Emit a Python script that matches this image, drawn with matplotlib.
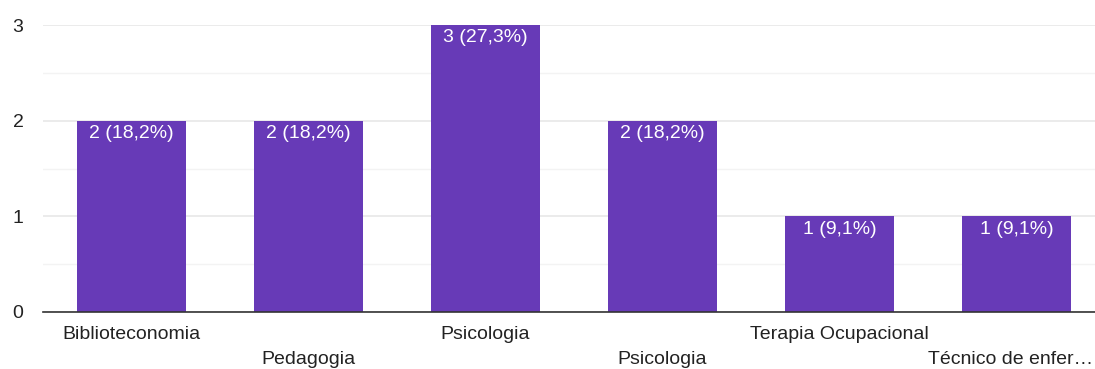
import matplotlib
matplotlib.use('Agg')
from matplotlib import pyplot as plt
from matplotlib.ticker import MultipleLocator

# dados do gráfico
cursos = ['Biblioteconomia', 'Pedagogia', 'Psicologia', 'Psicologia',
          'Terapia Ocupacional', 'Técnico de enfer…']
valores = [2, 2, 3, 2, 1, 1]
rotulos = ['2 (18,2%)', '2 (18,2%)', '3 (27,3%)', '2 (18,2%)', '1 (9,1%)', '1 (9,1%)']

plt.rcParams['font.family'] = ['Liberation Sans', 'DejaVu Sans']

fig = plt.figure(figsize=(10.95, 3.69), dpi=100)
ax = fig.add_axes([43 / 1095, 57 / 369, 1 - 43 / 1095, 287 / 369])

x = list(range(len(cursos)))
ax.bar(x, valores, width=0.62, color='#673ab7', zorder=3)

for i, v in enumerate(valores):
    ax.text(i, v - 0.045, rotulos[i], ha='center', va='top', color='white',
            fontsize=14, zorder=4)

ax.set_ylim(0, 3)
ax.set_xlim(-0.5, 5.5 - 10 / 177)
ax.yaxis.set_major_locator(MultipleLocator(1))
ax.yaxis.set_minor_locator(MultipleLocator(0.5))
ax.grid(axis='y', which='major', color='#e8e8e8', linewidth=1.2, zorder=0)
ax.grid(axis='y', which='minor', color='#f3f3f3', linewidth=1, zorder=0)

for s in ['top', 'right', 'left']:
    ax.spines[s].set_visible(False)
ax.spines['bottom'].set_color('#333333')
ax.spines['bottom'].set_linewidth(1.2)
ax.spines['bottom'].set_zorder(5)

ax.tick_params(axis='y', which='both', length=0, labelsize=14, labelcolor='#222222', pad=14)
ax.set_xticks(x)
ax.set_xticklabels([])
ax.tick_params(axis='x', length=0)

# rótulos do eixo x alternados em duas linhas
for i, nome in enumerate(cursos):
    dy = -0.24 if i % 2 == 0 else -0.50
    if i == len(cursos) - 1:
        # o último encosta na borda direita
        ax.text(0.998, dy, nome, ha='right', va='center', fontsize=14,
                color='#222222', clip_on=False,
                transform=ax.get_yaxis_transform())
    else:
        ax.text(i, dy, nome, ha='center', va='center', fontsize=14,
                color='#222222', clip_on=False)

fig.savefig('out.png', dpi=100)
